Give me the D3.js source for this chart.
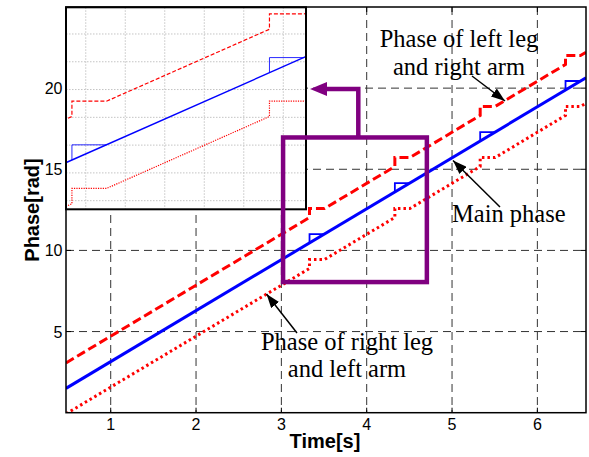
<!DOCTYPE html>
<html>
<head>
<meta charset="utf-8">
<script src="https://cdn.jsdelivr.net/npm/d3@7.9.0/dist/d3.min.js"></script>
<style>
  body { margin: 0; background: #fff; }
  svg { display: block; }
  .tick-label { font-family: "Liberation Sans", Arial, sans-serif; font-size: 16px; fill: #000; }
  .axis-title { font-family: "Liberation Sans", Arial, sans-serif; font-size: 20px; font-weight: bold; fill: #000; }
  .note { font-family: "Liberation Serif", "Times New Roman", serif; font-size: 24.5px; fill: #000; }
</style>
</head>
<body>
<svg id="chart" width="589" height="457"></svg>
<script>
// axis settings
const tDomain = [0.476, 6.57];
const phaseDomain = [0, 25];
const xTicks = [1, 2, 3, 4, 5, 6];
const yTicks = [5, 10, 15, 20];

// main phase (straight) and its jump marks: [t, before, after, t where line catches up]
const mainPhase = [[0.476, 1.50], [6.57, 20.64]];
const mainJumps = [
  [3.33, 10.46, 11.01, 3.505],
  [4.33, 13.60, 14.15, 4.505],
  [5.33, 16.74, 17.29, 5.505],
  [6.33, 19.89, 20.44, 6.505]
];

// phase of left leg and right arm (dashed)
const leftLegPhase = [
  [0.476, 3.07], [3.33, 12.03], [3.33, 12.58], [3.505, 12.58],
  [4.33, 15.17], [4.33, 15.72], [4.505, 15.72],
  [5.33, 18.32], [5.33, 18.87], [5.505, 18.87],
  [6.33, 21.46], [6.33, 22.01], [6.505, 22.01], [6.57, 22.21]
];

// phase of right leg and left arm (dotted)
const rightLegPhase = [
  [0.476, -0.07], [3.33, 8.89], [3.33, 9.44], [3.505, 9.44],
  [4.33, 12.03], [4.33, 12.58], [4.505, 12.58],
  [5.33, 15.17], [5.33, 15.72], [5.505, 15.72],
  [6.33, 18.32], [6.33, 18.87], [6.505, 18.87], [6.57, 19.07]
];

// zoomed inset
const insetTDomain = [3.30, 4.515];
const insetPhaseDomain = [8.69, 15.96];
const insetXTicks = [3.4, 3.6, 3.8, 4.0, 4.2, 4.4];
const insetYTicks = [9, 10, 11, 12, 13, 14, 15];

// zoom box in data units [t0, t1, phase0, phase1]
const zoomBox = [3.02, 4.705, 8.05, 16.96];

const svg = d3.select('#chart');
const plot = { left: 66, right: 586, top: 7, bottom: 412.7 };

const x = d3.scaleLinear().domain(tDomain).range([plot.left, plot.right]);
const y = d3.scaleLinear().domain(phaseDomain).range([plot.bottom, plot.top]);

const defs = svg.append('defs');
defs.append('clipPath').attr('id', 'clipMain')
  .append('rect')
  .attr('x', plot.left).attr('y', plot.top)
  .attr('width', plot.right - plot.left).attr('height', plot.bottom - plot.top);

const arrowMarker = defs.append('marker')
  .attr('id', 'arrowBlack')
  .attr('markerUnits', 'userSpaceOnUse')
  .attr('viewBox', '0 0 14 10')
  .attr('refX', 14).attr('refY', 5)
  .attr('markerWidth', 14).attr('markerHeight', 10)
  .attr('orient', 'auto');
arrowMarker.append('path').attr('d', 'M0,0 L14,5 L0,10 Z').attr('fill', '#000');

// grid
const grid = svg.append('g');
xTicks.forEach((t) => {
  grid.append('line')
    .attr('x1', x(t)).attr('x2', x(t))
    .attr('y1', plot.top).attr('y2', plot.bottom)
    .attr('stroke', '#333').attr('stroke-width', 1).attr('stroke-dasharray', '8,5');
});
yTicks.forEach((v) => {
  grid.append('line')
    .attr('x1', plot.left).attr('x2', plot.right)
    .attr('y1', y(v)).attr('y2', y(v))
    .attr('stroke', '#333').attr('stroke-width', 1).attr('stroke-dasharray', '8,5');
});

// short inward ticks
xTicks.forEach((t) => {
  grid.append('line').attr('x1', x(t)).attr('x2', x(t))
    .attr('y1', plot.bottom).attr('y2', plot.bottom - 5)
    .attr('stroke', '#000').attr('stroke-width', 1);
  grid.append('line').attr('x1', x(t)).attr('x2', x(t))
    .attr('y1', plot.top).attr('y2', plot.top + 5)
    .attr('stroke', '#000').attr('stroke-width', 1);
});
yTicks.forEach((v) => {
  grid.append('line').attr('x1', plot.left).attr('x2', plot.left + 5)
    .attr('y1', y(v)).attr('y2', y(v))
    .attr('stroke', '#000').attr('stroke-width', 1);
  grid.append('line').attr('x1', plot.right).attr('x2', plot.right - 5)
    .attr('y1', y(v)).attr('y2', y(v))
    .attr('stroke', '#000').attr('stroke-width', 1);
});

// draw the three curves with given scales
function drawCurves(g, xs, ys, widths) {
  const line = d3.line().x((d) => xs(d[0])).y((d) => ys(d[1]));
  g.append('path').attr('d', line(rightLegPhase))
    .attr('fill', 'none').attr('stroke', '#ff0000')
    .attr('stroke-width', widths.red).attr('stroke-dasharray', widths.dot);
  g.append('path').attr('d', line(leftLegPhase))
    .attr('fill', 'none').attr('stroke', '#ff0000')
    .attr('stroke-width', widths.red).attr('stroke-dasharray', widths.dash);
  g.append('path').attr('d', line(mainPhase))
    .attr('fill', 'none').attr('stroke', '#0000ff').attr('stroke-width', widths.blue);
  mainJumps.forEach((j) => {
    g.append('path').attr('d', line([[j[0], j[1]], [j[0], j[2]], [j[3], j[2]]]))
      .attr('fill', 'none').attr('stroke', '#0000ff')
      .attr('stroke-width', widths.blue * 0.6);
  });
}

const curves = svg.append('g').attr('clip-path', 'url(#clipMain)');
drawCurves(curves, x, y, { red: 3, blue: 3, dash: '9,4', dot: '2.5,3' });

// axes box
svg.append('rect')
  .attr('x', plot.left).attr('y', plot.top)
  .attr('width', plot.right - plot.left).attr('height', plot.bottom - plot.top)
  .attr('fill', 'none').attr('stroke', '#000').attr('stroke-width', 1.5);

// tick labels
svg.selectAll('.xlab').data(xTicks).join('text')
  .attr('class', 'tick-label')
  .attr('x', (d) => x(d)).attr('y', 430)
  .attr('text-anchor', 'middle').text((d) => d);
svg.selectAll('.ylab').data(yTicks).join('text')
  .attr('class', 'tick-label')
  .attr('x', 62.5).attr('y', (d) => y(d) + 6)
  .attr('text-anchor', 'end').text((d) => d);

// axis titles
svg.append('text').attr('class', 'axis-title')
  .attr('x', 325).attr('y', 448).attr('text-anchor', 'middle').text('Time[s]');
svg.append('text').attr('class', 'axis-title')
  .attr('transform', 'translate(39,210) rotate(-90)')
  .attr('text-anchor', 'middle').text('Phase[rad]');

// inset
const inset = { left: 66, right: 306, top: 7.3, bottom: 209.3 };
const xi = d3.scaleLinear().domain(insetTDomain).range([inset.left, inset.right]);
const yi = d3.scaleLinear().domain(insetPhaseDomain).range([inset.bottom, inset.top]);

defs.append('clipPath').attr('id', 'clipInset')
  .append('rect')
  .attr('x', inset.left).attr('y', inset.top)
  .attr('width', inset.right - inset.left).attr('height', inset.bottom - inset.top);

svg.append('rect')
  .attr('x', inset.left).attr('y', inset.top)
  .attr('width', inset.right - inset.left).attr('height', inset.bottom - inset.top)
  .attr('fill', '#fff');

const insetGrid = svg.append('g');
insetXTicks.forEach((t) => {
  insetGrid.append('line')
    .attr('x1', xi(t)).attr('x2', xi(t))
    .attr('y1', inset.top).attr('y2', inset.bottom)
    .attr('stroke', '#c4c4c4').attr('stroke-width', 1).attr('stroke-dasharray', '1.5,1.5');
});
insetYTicks.forEach((v) => {
  insetGrid.append('line')
    .attr('x1', inset.left).attr('x2', inset.right)
    .attr('y1', yi(v)).attr('y2', yi(v))
    .attr('stroke', '#c4c4c4').attr('stroke-width', 1).attr('stroke-dasharray', '1.5,1.5');
});

const insetCurves = svg.append('g').attr('clip-path', 'url(#clipInset)');
drawCurves(insetCurves, xi, yi, { red: 1.2, blue: 1.4, dash: '4,2', dot: '1.2,1.2' });

svg.append('rect')
  .attr('x', inset.left).attr('y', inset.top)
  .attr('width', inset.right - inset.left).attr('height', inset.bottom - inset.top)
  .attr('fill', 'none').attr('stroke', '#000').attr('stroke-width', 2);

// zoom box and connector
const purple = '#800080';
svg.append('rect')
  .attr('x', x(zoomBox[0])).attr('y', y(zoomBox[3]))
  .attr('width', x(zoomBox[1]) - x(zoomBox[0]))
  .attr('height', y(zoomBox[2]) - y(zoomBox[3]))
  .attr('fill', 'none').attr('stroke', purple).attr('stroke-width', 4.5);

const connX = 358.3, connY = 89;
svg.append('path')
  .attr('d', `M${connX},${y(zoomBox[3])} L${connX},${connY} L324,${connY}`)
  .attr('fill', 'none').attr('stroke', purple).attr('stroke-width', 4.5);
svg.append('path')
  .attr('d', `M310,${connY} L327,${connY - 7} L327,${connY + 7} Z`)
  .attr('fill', purple);

// annotations
function note(lines, xc, y0, dy) {
  lines.forEach((s, i) => {
    svg.append('text').attr('class', 'note')
      .attr('x', xc).attr('y', y0 + i * dy)
      .attr('text-anchor', 'middle').text(s);
  });
}
function arrow(x1, y1, x2, y2) {
  svg.append('line')
    .attr('x1', x1).attr('y1', y1).attr('x2', x2).attr('y2', y2)
    .attr('stroke', '#000').attr('stroke-width', 1.5)
    .attr('marker-end', 'url(#arrowBlack)');
}

note(['Phase of left leg', 'and right arm'], 459, 47, 27.5);
arrow(472, 76, 505, 101);

svg.append('text').attr('class', 'note')
  .attr('x', 452).attr('y', 222).text('Main phase');
arrow(500, 207, 453, 160.5);

note(['Phase of right leg', 'and left arm'], 347, 350, 27);
arrow(297, 333, 266.5, 294);
</script>
</body>
</html>
